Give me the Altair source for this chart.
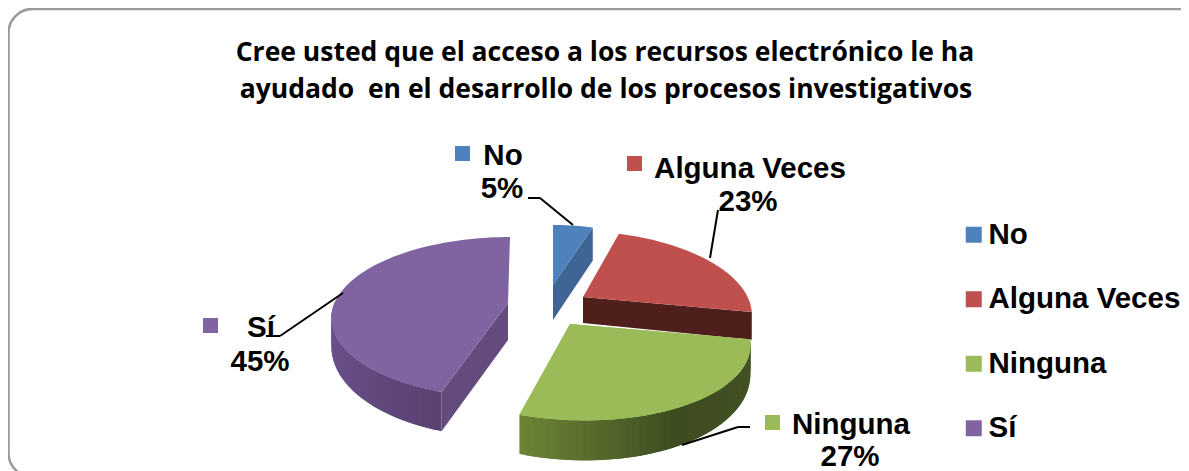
import math
import altair as alt

CATEGORIES = ["No", "Alguna Veces", "Ninguna", "Sí"]
SHARES = [5, 23, 27, 45]
TOP_COLORS = ["#4f81bd", "#c0504d", "#9bbb59", "#8064a2"]
TITLE_LINES = ["Cree usted que el acceso a los recursos electrónico le ha",
               "ayudado \u00a0en el desarrollo de los procesos investigativos"]

# layout (page pixels)
OX, OY = 8, 8
RX, RY, PERSP = 177, 77.7, 0.178
APEX = {"No": (553, 285), "Alguna Veces": (583, 297), "Ninguna": (570, 324), "Sí": (508, 303)}
SCALE_X = {"No": 0.85, "Alguna Veces": 0.93, "Ninguna": 0.985, "Sí": 0.98}
SCALE_Y = {"No": 0.91, "Alguna Veces": 1.0, "Ninguna": 1.02, "Sí": 1.0}
SHEAR = {"No": 0, "Alguna Veces": -8, "Ninguna": -15, "Sí": 2}
APEX_DEPTH = {"No": 35, "Alguna Veces": 26, "Ninguna": 37, "Sí": 37}


def rim(cat, deg):
    t = math.radians(deg)
    u, v = math.sin(t), math.cos(t)
    s = 1 / (1 + PERSP * v)
    ax, ay = APEX[cat]
    return (ax + RX * SCALE_X[cat] * u * s + SHEAR[cat] * v - OX, ay - RY * SCALE_Y[cat] * v * s - OY)


def rim_depth(deg):
    v = math.cos(math.radians(deg))
    return 25 + 15 * max(0, -v) if v < 0 else 33


def feat(coords, color, category=None):
    ring = [list(p) for p in coords]
    ring.append(ring[0])
    return {"type": "Feature", "geometry": {"type": "Polygon", "coordinates": [ring]},
            "properties": {"color": color, "category": category}}


def mix(c1, c2, t):
    a = [int(c1[i:i + 2], 16) for i in (1, 3, 5)]
    b = [int(c2[i:i + 2], 16) for i in (1, 3, 5)]
    return "#%02x%02x%02x" % tuple(round(x + (y - x) * t) for x, y in zip(a, b))


bounds = {}
acc = 0
for c, s in zip(CATEGORIES, SHARES):
    bounds[c] = (acc * 3.6, (acc + s) * 3.6)
    acc += s


def top_face(cat, color):
    a, b = bounds[cat]
    n = max(4, int((b - a) / 2))
    pts = [(APEX[cat][0] - OX, APEX[cat][1] - OY)]
    pts += [rim(cat, a + (b - a) * i / n) for i in range(n + 1)]
    return feat(pts, color, cat)


def radial_wall(cat, deg, color):
    ap = (APEX[cat][0] - OX, APEX[cat][1] - OY)
    r = rim(cat, deg)
    d = rim_depth(deg)
    return feat([ap, r, (r[0], r[1] + d), (ap[0], ap[1] + APEX_DEPTH[cat])], color)


def outer_wall(cat, a, b, c1, c2, c3, knee=0.45, n=50):
    out = []
    step = (b - a) / n
    for i in range(n):
        d0 = a + step * i
        # each strip reaches over the next one so no seam shows between them
        d1 = b if i == n - 1 else a + step * (i + 2)
        t = i / (n - 1)
        col = mix(c1, c2, t / knee) if t < knee else mix(c2, c3, (t - knee) / (1 - knee))
        p0, p1 = rim(cat, d0), rim(cat, d1)
        out.append(feat([p0, p1, (p1[0], p1[1] + rim_depth(d1)), (p0[0], p0[1] + rim_depth(d0))], col))
    return out


walls = []
a_si, b_si = bounds["Sí"]
walls += outer_wall("Sí", a_si, 272, "#5a4272", "#664d85", "#70558f", knee=0.5)
walls.append(radial_wall("Sí", a_si, "#644b7e"))
walls.append(radial_wall("No", bounds["No"][1], "#3e6594"))
walls.append(radial_wall("Alguna Veces", bounds["Alguna Veces"][1], "#4f1f1b"))
ng_a, ng_b = bounds["Ninguna"]
ng_walls = outer_wall("Ninguna", ng_b, ng_a, "#6b8436", "#3e4c20", "#445324")

colors = dict(zip(CATEGORIES, TOP_COLORS))
projection = dict(type="identity", scale=1, translate=[0, 0])


def wall_layer(features):
    return alt.Chart(alt.Data(values=features)).mark_geoshape(strokeWidth=0).encode(
        color=alt.Color("properties.color:N", scale=None),
    ).project(**projection)


tops = [top_face(c, colors[c]) for c in CATEGORIES]
top_layer = alt.Chart(alt.Data(values=tops)).mark_geoshape(strokeWidth=0).encode(
    color=alt.Color(
        "properties.category:N",
        scale=alt.Scale(domain=CATEGORIES, range=TOP_COLORS),
        legend=alt.Legend(
            orient="none", legendX=959 - OX, legendY=220 - OY, title=None,
            symbolType="square", symbolSize=256, symbolStrokeWidth=0, symbolOpacity=1,
            labelFontSize=29.5, labelFont="Liberation Sans", labelFontWeight="bold",
            labelColor="#000000", labelOffset=0, rowPadding=33.5, labelLimit=300,
        ),
    )
).project(**projection)
green_top = alt.Chart(alt.Data(values=[tops[2]])).mark_geoshape(strokeWidth=0, fill=TOP_COLORS[2]).project(
    **projection)


def seg(x1, y1, x2, y2, w=2):
    return alt.Chart(alt.Data(values=[{}])).mark_rule(color="#000000", strokeWidth=w).encode(
        x=alt.value(x1 - OX), y=alt.value(y1 - OY), x2=alt.value(x2 - OX), y2=alt.value(y2 - OY))


def txt(s, x, y, size=29.5, font="Liberation Sans", align="center"):
    return alt.Chart(alt.Data(values=[{}])).mark_text(
        text=s, fontSize=size, font=font, fontWeight="bold", align=align, baseline="alphabetic", color="#000000"
    ).encode(x=alt.value(x - OX), y=alt.value(y - OY))


def square(cat, x, y, size=15):
    return alt.Chart(alt.Data(values=[{}])).mark_rect(color=colors[cat]).encode(
        x=alt.value(x - OX), y=alt.value(y - OY), x2=alt.value(x + size - OX), y2=alt.value(y + size - OY))


frame = alt.Chart(alt.Data(values=[{}])).mark_rect(
    cornerRadius=24, fill="#ffffff", stroke="#9a9a9a", strokeWidth=2.5
).encode(x=alt.value(0.5), y=alt.value(1), x2=alt.value(1198), y2=alt.value(469))

layers = [frame, wall_layer(walls), wall_layer(ng_walls), top_layer, green_top]
layers += [
    seg(528, 198, 540, 198), seg(540, 198, 573, 225),
    seg(718, 210, 710, 258),
    seg(682, 445, 738, 427), seg(738, 427, 750, 427),
    seg(343, 293, 280, 336), seg(280, 336, 266, 336),
    square("No", 455, 146), square("Alguna Veces", 627, 156), square("Ninguna", 765, 415), square("Sí", 203, 318),
    txt("No", 503, 165), txt("5%", 502, 198),
    txt("Alguna Veces", 750, 178), txt("23%", 748, 211),
    txt("Ninguna", 851, 434), txt("27%", 850, 466),
    txt("Sí", 261, 337), txt("45%", 260, 371),
    txt(TITLE_LINES[0], 605, 61, size=26.5, font="Open Sans"),
    txt(TITLE_LINES[1], 606, 98, size=26.5, font="Open Sans"),
]

chart = alt.layer(*layers).properties(
    width=1173, height=463, padding=0, autosize=alt.AutoSizeParams(type="none")
).configure_view(stroke=None)

chart.save("out.html", embed_options={"renderer": "svg", "actions": False})
